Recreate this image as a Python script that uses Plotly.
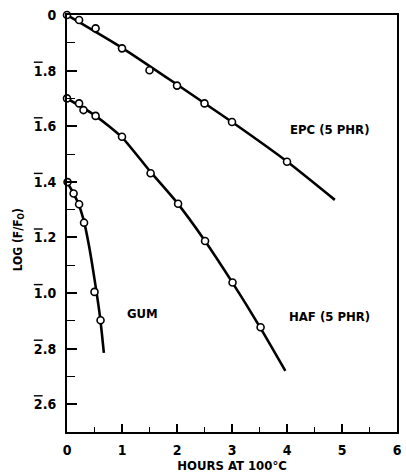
import plotly.graph_objects as go

# Data (y = log(F/F0))
epc_x = [0.0, 0.22, 0.52, 1.0, 1.5, 2.0, 2.5, 3.0, 4.0]
epc_y = [0.0, -0.018, -0.048, -0.12, -0.199, -0.254, -0.318, -0.385, -0.528]
epc_fit_x = [0.0, 1.0, 2.0, 3.0, 4.0, 4.87]
epc_fit_y = [0.0, -0.118, -0.250, -0.385, -0.527, -0.665]

haf_x = [0.0, 0.22, 0.30, 0.52, 1.0, 1.52, 2.02, 2.51, 3.01, 3.52]
haf_y = [-0.30, -0.318, -0.342, -0.363, -0.438, -0.569, -0.679, -0.813, -0.962, -1.123]
haf_fit_x = [0.0, 0.5, 1.0, 1.5, 2.0, 2.5, 3.0, 3.5, 3.97]
haf_fit_y = [-0.30, -0.36, -0.44, -0.56, -0.675, -0.81, -0.96, -1.12, -1.28]

gum_x = [0.01, 0.12, 0.22, 0.31, 0.50, 0.61]
gum_y = [-0.601, -0.642, -0.681, -0.747, -0.996, -1.098]
gum_fit_x = [0.0, 0.10, 0.20, 0.30, 0.40, 0.50, 0.60, 0.67]
gum_fit_y = [-0.60, -0.635, -0.675, -0.735, -0.83, -0.95, -1.085, -1.215]

y_tickvals = [0, -0.2, -0.4, -0.6, -0.8, -1.0, -1.2, -1.4]
OL = "<span style='text-decoration:overline'>{}</span>"
y_ticktext = ["0", OL.format("1") + ".8", OL.format("1") + ".6", OL.format("1") + ".4", OL.format("1") + ".2",
              OL.format("1") + ".0", OL.format("2") + ".8", OL.format("2") + ".6"]
x_tickvals = [0, 1, 2, 3, 4, 5, 6]
x_ticktext = ["0", "1", "2", "3", "4", "5", "6"]

labels = [("EPC (5 PHR)", 4.77, -0.412), ("HAF (5 PHR)", 4.77, -1.084), ("GUM", 1.37, -1.075)]

FONT = "DejaVu Sans Condensed"

fig = go.Figure()
for fx, fy in [(epc_fit_x, epc_fit_y), (haf_fit_x, haf_fit_y), (gum_fit_x, gum_fit_y)]:
    fig.add_trace(go.Scatter(x=fx, y=fy, mode="lines", line=dict(color="black", width=2.6, shape="spline", smoothing=0.6),
                             hoverinfo="skip", cliponaxis=False))
for px, py in [(epc_x, epc_y), (haf_x, haf_y), (gum_x, gum_y)]:
    fig.add_trace(go.Scatter(x=px, y=py, mode="markers", cliponaxis=False,
                             marker=dict(symbol="circle", size=7, color="white", line=dict(color="black", width=1.6))))

for text, x, y in labels:
    fig.add_annotation(x=x, y=y, text=text, showarrow=False, xanchor="center", yanchor="middle",
                       font=dict(family=FONT, size=13, color="black", weight="bold"))

fig.add_annotation(xref="paper", yref="paper", x=-0.145, y=0.46, text="LOG (F/F<sub>O</sub>)", textangle=-90,
                   showarrow=False, xanchor="center", yanchor="middle",
                   font=dict(family=FONT, size=12, color="black", weight="bold"))

fig.update_layout(
    width=406, height=473,
    margin=dict(l=67, r=4, t=15, b=40),
    paper_bgcolor="white", plot_bgcolor="white",
    showlegend=False,
    xaxis=dict(range=[0, 6], tickvals=x_tickvals, ticktext=x_ticktext, ticks="inside", ticklen=8, tickwidth=1.5,
               tickcolor="black", showline=True, linecolor="black", linewidth=2, mirror=True, showgrid=False,
               zeroline=False, ticklabelstandoff=4, tickfont=dict(family=FONT, size=14, color="black", weight="bold"),
               minor=dict(dtick=0.5, ticks="inside", ticklen=5, tickwidth=1.2, tickcolor="black"),
               title=dict(text="HOURS AT 100°C", font=dict(family=FONT, size=13, color="black", weight="bold"), standoff=2)),
    yaxis=dict(range=[-1.5, 0], tickvals=y_tickvals, ticktext=y_ticktext, ticks="inside", ticklen=10, tickwidth=1.5,
               tickcolor="black", showline=True, linecolor="black", linewidth=2, mirror=True, showgrid=False,
               zeroline=False, ticklabelstandoff=6, tickfont=dict(family=FONT, size=14, color="black", weight="bold"),
               minor=dict(dtick=0.1, tick0=0, ticks="inside", ticklen=8, tickwidth=1.2, tickcolor="black")),
)

fig.write_html("out.html")
